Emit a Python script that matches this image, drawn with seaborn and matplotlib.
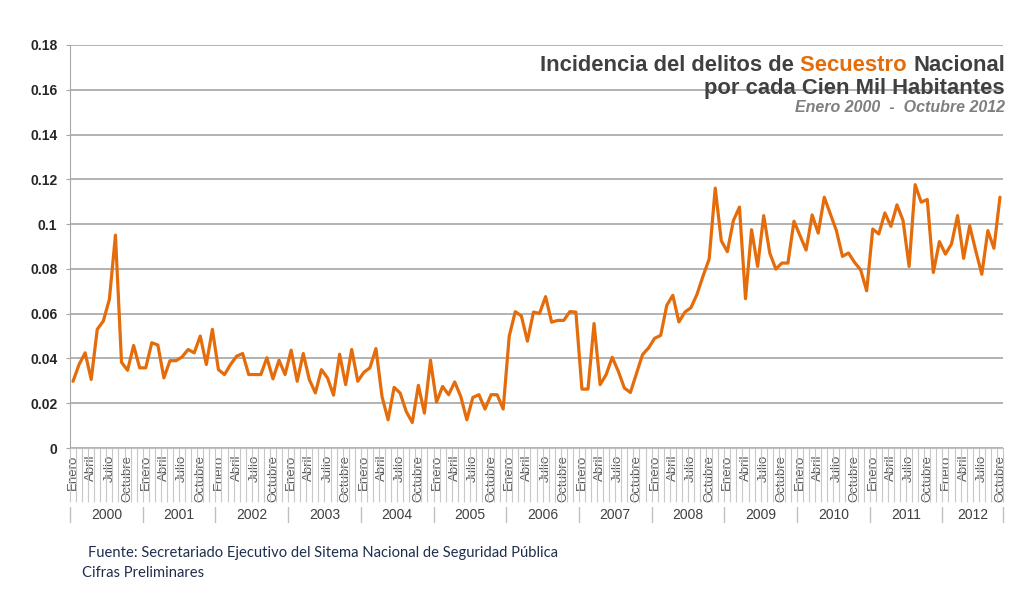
import numpy as np
import pandas as pd
import matplotlib.pyplot as plt
import seaborn as sns

# DATOS (tasa mensual por cada cien mil habitantes)
anios = list(range(2000, 2013))
meses_etiqueta = ["Enero", "", "", "Abril", "", "", "Julio", "", "", "Octubre", "", ""]

t2000 = [0.0298, 0.0373, 0.0425, 0.0306, 0.0530, 0.0567, 0.0664, 0.0951, 0.0383, 0.0347, 0.0458, 0.0358]
t2001 = [0.0358, 0.0470, 0.0460, 0.0313, 0.0390, 0.0390, 0.0407, 0.0440, 0.0425, 0.0500, 0.0373, 0.0530]
t2002 = [0.0350, 0.0328, 0.0373, 0.0410, 0.0422, 0.0328, 0.0328, 0.0328, 0.0403, 0.0309, 0.0392, 0.0328]
t2003 = [0.0437, 0.0298, 0.0422, 0.0306, 0.0246, 0.0350, 0.0313, 0.0236, 0.0419, 0.0283, 0.0440, 0.0298]
t2004 = [0.0338, 0.0358, 0.0444, 0.0230, 0.0126, 0.0271, 0.0245, 0.0163, 0.0114, 0.0280, 0.0156, 0.0392]
t2005 = [0.0205, 0.0275, 0.0238, 0.0295, 0.0230, 0.0126, 0.0226, 0.0238, 0.0174, 0.0238, 0.0238, 0.0174]
t2006 = [0.0500, 0.0609, 0.0590, 0.0477, 0.0607, 0.0601, 0.0676, 0.0562, 0.0570, 0.0570, 0.0609, 0.0607]
t2007 = [0.0263, 0.0263, 0.0556, 0.0283, 0.0328, 0.0405, 0.0343, 0.0268, 0.0248, 0.0332, 0.0417, 0.0447]
t2008 = [0.0490, 0.0503, 0.0637, 0.0682, 0.0563, 0.0607, 0.0627, 0.0687, 0.0769, 0.0844, 0.1161, 0.0926]
t2009 = [0.0877, 0.1016, 0.1076, 0.0667, 0.0975, 0.0811, 0.1038, 0.0871, 0.0799, 0.0826, 0.0826, 0.1013]
t2010 = [0.0948, 0.0884, 0.1041, 0.0960, 0.1120, 0.1046, 0.0971, 0.0856, 0.0871, 0.0829, 0.0796, 0.0702]
t2011 = [0.0978, 0.0956, 0.1050, 0.0990, 0.1086, 0.1016, 0.0811, 0.1176, 0.1098, 0.1110, 0.0784, 0.0922]
t2012 = [0.0866, 0.0911, 0.1038, 0.0847, 0.0993, 0.0881, 0.0776, 0.0971, 0.0892, 0.1120]

por_anio = [t2000, t2001, t2002, t2003, t2004, t2005, t2006,
            t2007, t2008, t2009, t2010, t2011, t2012]

filas = []
for anio, vals in zip(anios, por_anio):
    for i, v in enumerate(vals):
        filas.append({"anio": anio, "mes": i, "tasa": v})
df = pd.DataFrame(filas)
df["idx"] = np.arange(len(df))
df["etiqueta"] = [meses_etiqueta[m] for m in df["mes"]]

naranja = "#E46C0A"
gris_txt = "#404040"

sns.set_style("white")
plt.rcParams["font.family"] = ["Liberation Sans", "DejaVu Sans"]

fig = plt.figure(figsize=(10.17, 6.0), dpi=100)
ax = fig.add_axes([70 / 1017, 152 / 600, 933 / 1017, 403 / 600])

sns.lineplot(data=df, x="idx", y="tasa", color=naranja, linewidth=2.3, ax=ax)

n = len(df)
ax.set_xlim(-0.5, n - 0.5)
ax.set_ylim(0, 0.18)
ax.set_xlabel("")
ax.set_ylabel("")

# eje y
yt = np.arange(0, 0.181, 0.02)
ax.set_yticks(yt)
ax.set_yticklabels([f"{v:g}" for v in np.round(yt, 2)], fontsize=10,
                   fontweight="bold", color="#262626")
ax.tick_params(axis="y", left=True, length=3, color="#A6A6A6", pad=6)
ax.yaxis.grid(True, color="#A6A6A6", linewidth=1.2)
ax.xaxis.grid(False)

# eje x: meses
ax.set_xticks(df["idx"])
ax.set_xticklabels(df["etiqueta"], rotation=90, fontsize=9.5, color="#595959")
ax.tick_params(axis="x", which="major", bottom=True, length=0, pad=5)
ax.set_xticks(np.arange(-0.5, n, 1), minor=True)
ax.tick_params(axis="x", which="minor", bottom=True, length=39, width=0.8, color="#C8C8C8")

for s in ["top", "right"]:
    ax.spines[s].set_visible(False)
ax.spines["left"].set_color("#A6A6A6")
ax.spines["bottom"].set_color("#BFBFBF")

# años debajo de los meses
trans = ax.get_xaxis_transform()
inicio = -0.5
for anio, vals in zip(anios, por_anio):
    fin = inicio + len(vals)
    ax.text((inicio + fin) / 2, -0.166, str(anio), transform=trans, ha="center",
            va="center", fontsize=10, color=gris_txt)
    ax.plot([inicio, inicio], [-0.146, -0.184], transform=trans, color="#BFBFBF",
            linewidth=1, clip_on=False)
    inicio = fin
ax.plot([inicio, inicio], [-0.146, -0.184], transform=trans, color="#BFBFBF",
        linewidth=1, clip_on=False)

# titulo en dos colores
t3 = ax.text(1.002, 0.95, "Nacional", transform=ax.transAxes, ha="right", va="center",
             fontsize=15.8, fontweight="bold", color=gris_txt)
t2 = ax.annotate("Secuestro ", xy=(0, 0), xycoords=t3, ha="right", va="bottom",
                 fontsize=15.8, fontweight="bold", color=naranja)
ax.annotate("Incidencia del delitos de ", xy=(0, 0), xycoords=t2, ha="right",
            va="bottom", fontsize=15.8, fontweight="bold", color=gris_txt)
ax.text(1.002, 0.893, "por cada Cien Mil Habitantes", transform=ax.transAxes,
        ha="right", va="center", fontsize=15.8, fontweight="bold", color=gris_txt)
ax.text(1.002, 0.846, "Enero 2000  -  Octubre 2012", transform=ax.transAxes,
        ha="right", va="center", fontsize=11.5, fontweight="bold", style="italic",
        color="#7F7F7F")

# nota al pie
fig.text(88 / 1017, 1 - 553 / 600, "Fuente: Secretariado Ejecutivo del Sitema Nacional de Seguridad Pública",
         ha="left", va="center", fontsize=10.6, family=["Lato", "DejaVu Sans"], color="#1F2D4D")
fig.text(82 / 1017, 1 - 573 / 600, "Cifras Preliminares",
         ha="left", va="center", fontsize=10.6, family=["Lato", "DejaVu Sans"], color="#1F2D4D")

fig.savefig("out.png", dpi=100)
